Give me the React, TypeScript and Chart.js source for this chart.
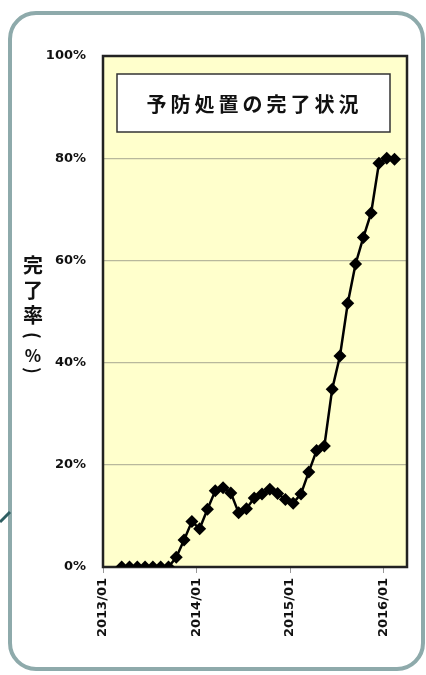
import React, { useEffect, useRef } from "react";
import { Chart, registerables } from "chart.js";
Chart.register(...registerables);

// Data (month labels and completion rate in %)
const months = [
  "2013/03", "2013/04", "2013/05", "2013/06", "2013/07", "2013/08", "2013/09",
  "2013/10", "2013/11", "2013/12", "2014/01", "2014/02", "2014/03", "2014/04",
  "2014/05", "2014/06", "2014/07", "2014/08", "2014/09", "2014/10", "2014/11",
  "2014/12", "2015/01", "2015/02", "2015/03", "2015/04", "2015/05", "2015/06",
  "2015/07", "2015/08", "2015/09", "2015/10", "2015/11", "2015/12", "2016/01",
  "2016/02",
];
const completion = [
  0, 0, 0, 0, 0, 0, 0,
  1.9, 5.3, 8.9, 7.5, 11.3, 14.9, 15.5, 14.5, 10.6, 11.4, 13.5, 14.3, 15.2,
  14.4, 13.2, 12.5, 14.3, 18.6, 22.8, 23.7, 34.8, 41.3, 51.6, 59.3, 64.5,
  69.3, 79.0, 80.0, 79.8,
];
const xTickLabels = ["2013/01", "2014/01", "2015/01", "2016/01"];
const yTicks = [0, 20, 40, 60, 80, 100];
const chartTitle = "予防処置の完了状況";
// vertical title: 完了率（%）, parentheses drawn rotated
const yTitleChars = ["完", "了", "率", "(", "%", ")"];
const yTitleRotated = [false, false, false, true, false, true];

const START_YEAR = 2013;
const MID_MONTH = 0.4; // points sit partway into their month
const monthIndex = (s: string) => {
  const [y, m] = s.split("/").map(Number);
  return (y - START_YEAR) * 12 + (m - 1);
};
const tickIndex = xTickLabels.map(monthIndex);

const FONT = "'DejaVu Sans', sans-serif";
const CJK = "'Noto Sans CJK JP', sans-serif";

const decorPlugin = {
  id: "decor",
  beforeDraw(chart: any) {
    const { ctx, chartArea: a } = chart;
    ctx.save();
    ctx.fillStyle = "#ffffcc";
    ctx.fillRect(a.left, a.top, a.right - a.left, a.bottom - a.top);
    ctx.restore();
  },
  beforeDatasetsDraw(chart: any) {
    const { ctx, chartArea: a } = chart;
    ctx.save();
    ctx.strokeStyle = "#222";
    ctx.lineWidth = 2.5;
    ctx.strokeRect(a.left, a.top, a.right - a.left, a.bottom - a.top);
    // title box
    const bx = a.left + 14;
    const by = a.top + 18;
    const bw = a.right - a.left - 31;
    const bh = 58;
    ctx.fillStyle = "#fff";
    ctx.fillRect(bx, by, bw, bh);
    ctx.strokeStyle = "#333";
    ctx.lineWidth = 1.5;
    ctx.strokeRect(bx, by, bw, bh);
    ctx.fillStyle = "#111";
    ctx.font = `bold 20px ${CJK}`;
    (ctx as any).letterSpacing = "4px";
    ctx.textAlign = "center";
    ctx.textBaseline = "middle";
    ctx.fillText(chartTitle, bx + bw / 2 + 1, by + bh / 2 + 1);
    (ctx as any).letterSpacing = "0px";
    // vertical y-axis title
    const cy = (a.top + a.bottom) / 2;
    const offsets = [-46, -21, 4, 24, 44, 59];
    yTitleChars.forEach((c, i) => {
      if (yTitleRotated[i]) {
        ctx.save();
        ctx.translate(33, cy + offsets[i]);
        ctx.rotate(Math.PI / 2);
        ctx.font = `bold 18px ${CJK}`;
        ctx.fillText(c, 0, 0);
        ctx.restore();
      } else {
        ctx.font = c === "%" ? `bold 17px ${CJK}` : `bold 20px ${CJK}`;
        ctx.fillText(c, 33, cy + offsets[i]);
      }
    });
    ctx.restore();
  },
};

export default function App() {
  const ref = useRef<HTMLCanvasElement>(null);
  useEffect(() => {
    if (!ref.current) return;
    const chart = new Chart(ref.current, {
      type: "line",
      data: {
        datasets: [
          {
            data: months.map((m, i) => ({ x: monthIndex(m) + MID_MONTH, y: completion[i] })),
            borderColor: "#000",
            backgroundColor: "#000",
            borderWidth: 2.5,
            pointStyle: "rectRot",
            pointRadius: 6.5,
            pointBorderWidth: 0,
            tension: 0,
          },
        ],
      },
      options: {
        responsive: false,
        animation: false,
        layout: { padding: { left: 0, right: 19, top: 56, bottom: 0 } },
        plugins: { legend: { display: false }, tooltip: { enabled: false }, title: { display: false } },
        scales: {
          x: {
            type: "linear",
            min: 0,
            max: 39,
            afterBuildTicks: (s: any) => {
              s.ticks = tickIndex.map((v) => ({ value: v }));
            },
            afterFit: (s: any) => {
              s.height = 108;
            },
            ticks: {
              minRotation: 90,
              maxRotation: 90,
              padding: 5,
              color: "#111",
              font: { family: FONT, size: 13, weight: "bold" },
              callback: (v: any) => {
                const i = tickIndex.indexOf(Number(v));
                return i >= 0 ? xTickLabels[i] : "";
              },
            },
            grid: { drawOnChartArea: false, drawTicks: true, tickLength: 6, color: "#999" },
            border: { display: false },
          },
          y: {
            min: 0,
            max: 100,
            afterBuildTicks: (s: any) => {
              s.ticks = yTicks.map((v) => ({ value: v }));
            },
            afterFit: (s: any) => {
              s.width = 103;
            },
            ticks: {
              padding: 17,
              color: "#111",
              font: { family: FONT, size: 13, weight: "bold" },
              callback: (v: any) => `${v}%`,
            },
            grid: {
              drawTicks: false,
              color: (c: any) => (c.tick && (c.tick.value === 0 || c.tick.value === 100) ? "rgba(0,0,0,0)" : "#b8b89c"),
              lineWidth: 1.2,
            },
            border: { display: false },
          },
        },
      },
      plugins: [decorPlugin],
    });
    return () => chart.destroy();
  }, []);
  return (
    <div style={{ position: "fixed", left: 0, top: 0, width: 426, height: 675, background: "#fff", overflow: "hidden" }}>
      <div
        style={{
          position: "absolute",
          left: 8,
          top: 11,
          width: 417,
          height: 660,
          boxSizing: "border-box",
          border: "4px solid #8eaaab",
          borderRadius: 28,
        }}
      />
      <svg width={20} height={30} style={{ position: "absolute", left: 0, top: 500 }}>
        <path d="M0 22 Q5 17 10 12" stroke="#2e5e62" strokeWidth={3} fill="none" />
      </svg>
      <canvas ref={ref} width={426} height={675} style={{ position: "absolute", left: 0, top: 0 }} />
    </div>
  );
}
